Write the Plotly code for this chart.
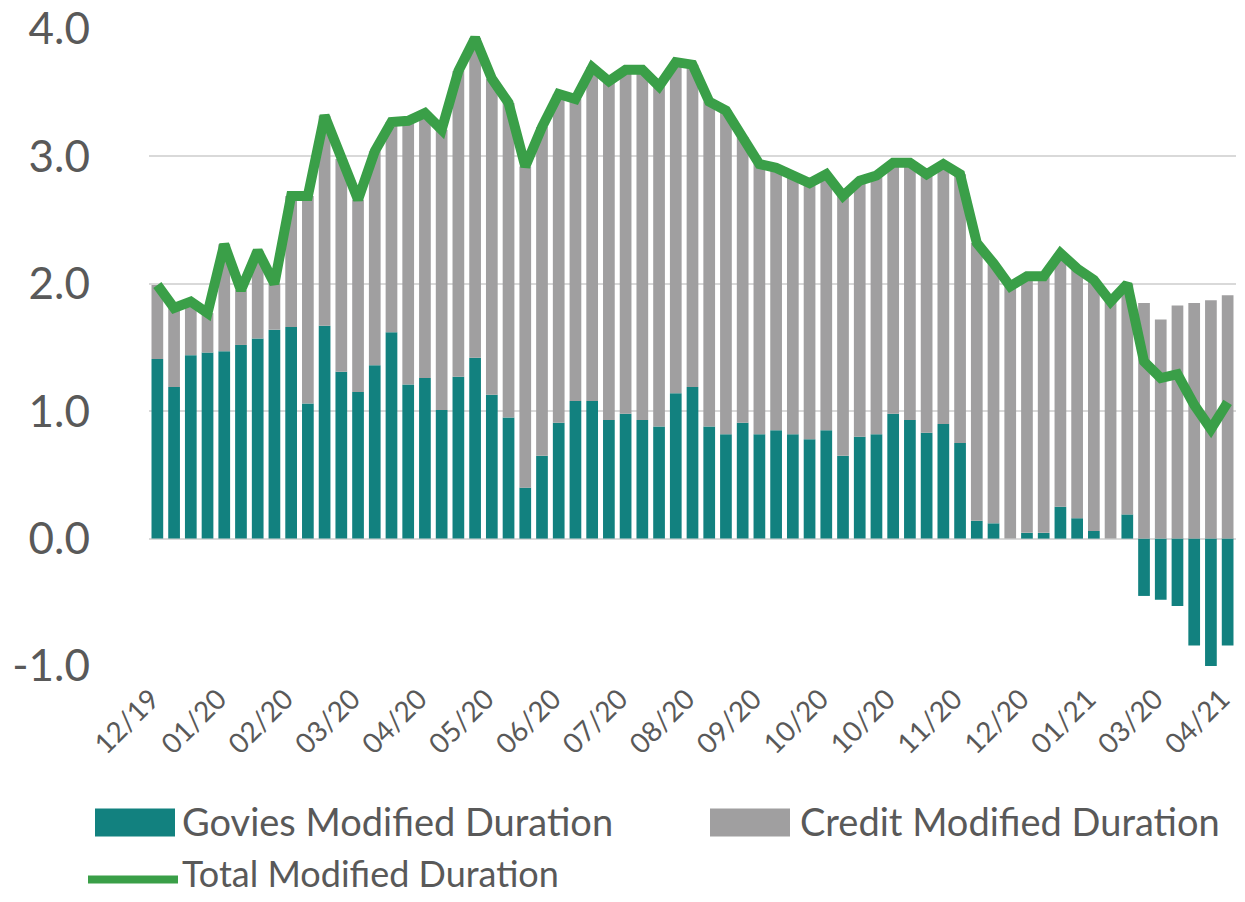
import plotly.graph_objects as go

# ---------------- data ----------------
tick_labels = ["12/19", "01/20", "02/20", "03/20", "04/20", "05/20", "06/20", "07/20",
               "08/20", "09/20", "10/20", "10/20", "11/20", "12/20", "01/21", "03/20", "04/21"]
y_tick_values = [-1, 0, 1, 2, 3, 4]
y_tick_labels = ["-1.0", "0.0", "1.0", "2.0", "3.0", "4.0"]

govies = [1.41, 1.19, 1.44, 1.46, 1.47, 1.52, 1.57, 1.64, 1.66, 1.06,
          1.67, 1.31, 1.15, 1.36, 1.62, 1.21, 1.26, 1.01, 1.27, 1.42,
          1.13, 0.95, 0.40, 0.65, 0.91, 1.08, 1.08, 0.93, 0.98, 0.93,
          0.88, 1.14, 1.19, 0.88, 0.82, 0.91, 0.82, 0.85, 0.82, 0.78,
          0.85, 0.65, 0.80, 0.82, 0.98, 0.93, 0.83, 0.90, 0.75, 0.14,
          0.12, 0.00, 0.045, 0.045, 0.25, 0.16, 0.06, 0.00, 0.19, -0.45,
          -0.48, -0.53, -0.84, -1.00, -0.84]

credit = [0.58, 0.62, 0.42, 0.31, 0.84, 0.43, 0.69, 0.36, 1.03, 1.63,
          1.65, 1.67, 1.51, 1.68, 1.65, 2.07, 2.08, 2.20, 2.40, 2.51,
          2.48, 2.47, 2.52, 2.58, 2.58, 2.37, 2.62, 2.66, 2.70, 2.75,
          2.67, 2.60, 2.53, 2.55, 2.54, 2.24, 2.12, 2.06, 2.04, 2.01,
          2.01, 2.04, 2.01, 2.03, 1.97, 2.02, 2.03, 2.04, 2.11, 2.18,
          2.04, 1.98, 2.015, 2.015, 1.99, 1.96, 1.97, 1.86, 1.81, 1.85,
          1.72, 1.83, 1.85, 1.87, 1.91]

total = [1.99, 1.81, 1.86, 1.77, 2.31, 1.95, 2.26, 2.00, 2.69, 2.69,
         3.32, 2.98, 2.66, 3.04, 3.27, 3.28, 3.34, 3.21, 3.67, 3.93,
         3.61, 3.42, 2.92, 3.23, 3.49, 3.45, 3.70, 3.59, 3.68, 3.68,
         3.55, 3.74, 3.72, 3.43, 3.36, 3.15, 2.94, 2.91, 2.86, 2.79,
         2.86, 2.69, 2.81, 2.85, 2.95, 2.95, 2.86, 2.94, 2.86, 2.32,
         2.16, 1.98, 2.06, 2.06, 2.24, 2.12, 2.03, 1.86, 2.00, 1.39,
         1.26, 1.29, 1.05, 0.86, 1.07]

weeks = list(range(len(total)))
tick_positions = weeks[::4]

# ---------------- style ----------------
TEAL = "#12817f"
GRAY = "#a09fa0"
GREEN = "#3a9f48"
TEXT = "#595959"
GRID = "#d9d9d9"
FONT = "Lato, 'Open Sans', sans-serif"

OFF = 8                       # default page body margin
W, H = 1245 - 2 * OFF, 902 - 2 * OFF
# plot area in page pixels
PL, PR, PT, PB = 149, 1236, 29, 665.6
L = PL - OFF
R = W - (PR - OFF)
T = PT - OFF
B = H - (PB - OFF)


def px_x(x):
    """page pixel x -> paper fraction"""
    return (x - PL) / (PR - PL)


def px_y(y):
    """page pixel y -> paper fraction"""
    return (PB - y) / (PB - PT)


fig = go.Figure()
fig.add_bar(x=weeks, y=govies, name="Govies Modified Duration",
            marker=dict(color=TEAL, line=dict(width=0)), showlegend=False)
fig.add_bar(x=weeks, y=credit, name="Credit Modified Duration",
            marker=dict(color=GRAY, line=dict(width=0)), showlegend=False)
fig.add_scatter(x=weeks, y=total, mode="lines", name="Total Modified Duration",
                line=dict(color=GREEN, width=10), showlegend=False)

fig.update_layout(
    width=W, height=H,
    margin=dict(l=L, r=R, t=T, b=B, autoexpand=False),
    barmode="relative", bargap=0.3,
    plot_bgcolor="white", paper_bgcolor="white",
    font=dict(family=FONT, color=TEXT),
    xaxis=dict(range=[-0.5, len(weeks) - 0.5], tickmode="array",
               tickvals=tick_positions, ticktext=tick_labels,
               tickangle=-45, showgrid=False, zeroline=False, showline=False,
               ticks="", tickfont=dict(size=28, color=TEXT, family=FONT),
               ticklabelstandoff=10, ticklabelshift=-6, automargin=False,
               ticklabeloverflow="allow"),
    yaxis=dict(range=[-1, 4], tickmode="array",
               tickvals=y_tick_values, ticktext=y_tick_labels,
               showgrid=True, gridcolor=GRID, gridwidth=2,
               zeroline=True, zerolinecolor=GRID, zerolinewidth=2,
               showline=False, ticks="",
               tickfont=dict(size=44, color=TEXT, family=FONT),
               ticklabelstandoff=58, automargin=False,
               ticklabeloverflow="allow"),
)

# custom legend (swatches + text), positioned in page pixels
shapes = [
    dict(type="rect", xref="paper", yref="paper", x0=px_x(95), x1=px_x(175),
         y0=px_y(836), y1=px_y(808), fillcolor=TEAL, line=dict(width=0)),
    dict(type="rect", xref="paper", yref="paper", x0=px_x(710), x1=px_x(790),
         y0=px_y(836), y1=px_y(808), fillcolor=GRAY, line=dict(width=0)),
    dict(type="line", xref="paper", yref="paper", x0=px_x(88), x1=px_x(178),
         y0=px_y(879), y1=px_y(879), line=dict(color=GREEN, width=8)),
]
for s in shapes:
    fig.add_shape(**s)

legend_items = [("Govies Modified Duration", 180, 821, 38),
                ("Credit Modified Duration", 798, 821, 38),
                ("Total Modified Duration", 180, 872, 36)]
for txt, x, y, sz in legend_items:
    fig.add_annotation(text=txt, xref="paper", yref="paper", x=px_x(x), y=px_y(y),
                       xanchor="left", yanchor="middle", showarrow=False,
                       font=dict(size=sz, color=TEXT, family=FONT))

fig.write_html("out.html")
